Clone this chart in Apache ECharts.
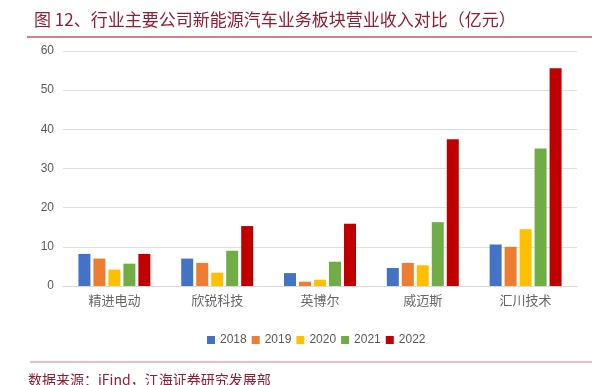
<!DOCTYPE html>
<html>
<head>
<meta charset="utf-8">
<script src="https://cdn.jsdelivr.net/npm/echarts@6/dist/echarts.min.js"></script>
<style>
html, body { margin: 0; padding: 0; background: #fff; }
#chart { width: 602px; height: 385px; }
</style>
</head>
<body>
<div id="chart"></div>
<script>
var companies = ['精进电动', '欣锐科技', '英博尔', '威迈斯', '汇川技术'];
var years = ['2018', '2019', '2020', '2021', '2022'];
var v2018 = [8.2, 7.0, 3.3, 4.6, 10.6];
var v2019 = [7.0, 5.9, 1.1, 5.9, 10.0];
var v2020 = [4.2, 3.4, 1.6, 5.3, 14.5];
var v2021 = [5.7, 9.0, 6.2, 16.3, 35.1];
var v2022 = [8.2, 15.3, 15.9, 37.5, 55.6];
var colors = ['#4472C4', '#ED7D31', '#FFC000', '#70AD47', '#C00000'];

var all_values = [v2018, v2019, v2020, v2021, v2022];
var series = [];
for (var i = 0; i < years.length; i++) {
    series.push({
        name: years[i],
        type: 'bar',
        data: all_values[i],
        itemStyle: { color: colors[i] },
        barGap: '25%',
        barCategoryGap: '30%'
    });
}

var chart = echarts.init(document.getElementById('chart'));
chart.setOption({
    animation: false,
    textStyle: { fontFamily: 'Noto Sans CJK SC' },
    title: {
        text: '图 12、行业主要公司新能源汽车业务板块营业收入对比（亿元）',
        left: 29, top: 6,
        textStyle: { color: '#961C30', fontSize: 17, fontWeight: 'normal', fontFamily: 'Noto Sans CJK SC' }
    },
    graphic: [
        { type: 'line', shape: { x1: 27, y1: 37, x2: 592, y2: 37 }, style: { stroke: '#C8545F', lineWidth: 1.5 } },
        { type: 'line', shape: { x1: 30, y1: 362, x2: 592, y2: 362 }, style: { stroke: '#D77B84', lineWidth: 1 } },
        { type: 'text', left: 28, top: 373, style: { text: '数据来源：iFind，江海证券研究发展部', fill: '#961C30', fontSize: 14, fontFamily: 'Noto Sans CJK SC' } }
    ],
    legend: {
        data: years,
        top: 329, left: 202,
        itemWidth: 8, itemHeight: 8, itemGap: 5,
        icon: 'rect',
        textStyle: { color: '#595959', fontSize: 12, fontFamily: 'Liberation Sans' }
    },
    grid: { left: 63, right: 25, top: 51, bottom: 99, containLabel: false },
    xAxis: {
        type: 'category',
        data: companies,
        axisLine: { lineStyle: { color: '#D9D9D9', width: 1 } },
        axisTick: { show: false },
        axisLabel: { color: '#666666', fontSize: 13, margin: 8 }
    },
    yAxis: {
        type: 'value',
        min: 0, max: 60, interval: 10,
        axisLine: { show: false },
        axisTick: { show: false },
        splitLine: { lineStyle: { color: '#E0E0E0' } },
        axisLabel: { color: '#595959', fontSize: 12, margin: 9, fontFamily: 'Liberation Sans' }
    },
    series: series
});
</script>
</body>
</html>
